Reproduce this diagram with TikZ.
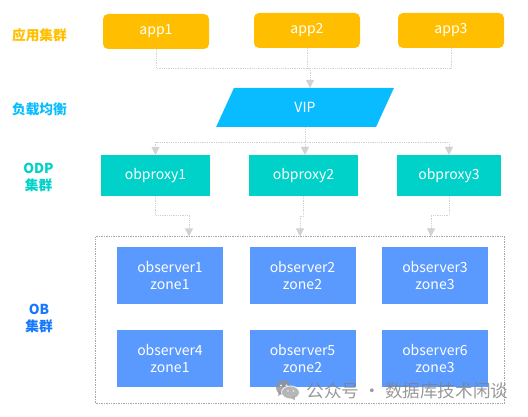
\documentclass[tikz,border=0pt]{standalone}
\usepackage{fontspec}
\setmainfont{Noto Sans CJK SC}
\usetikzlibrary{arrows.meta,shapes.geometric}
\definecolor{appyellow}{HTML}{FFBF00}
\definecolor{vipblue}{HTML}{09BCFF}
\definecolor{proxycyan}{HTML}{00D1C9}
\definecolor{serverblue}{HTML}{5A9AFF}
\definecolor{obblue}{HTML}{1677FF}
\definecolor{linkgray}{HTML}{D2D2D2}
\tikzset{
  boxtext/.style={text=white, inner sep=0pt, outer sep=0pt, align=center,
                  font=\fontsize{14}{17}\selectfont},
  appbox/.style={boxtext, fill=appyellow, rounded corners=5pt,
                 minimum width=106pt, minimum height=35pt},
  proxybox/.style={boxtext, fill=proxycyan, minimum height=41pt},
  serverbox/.style={boxtext, fill=serverblue, minimum width=106pt, minimum height=57pt},
  tierlabel/.style={align=center, inner sep=0pt, font=\fontsize{13.7}{17}\selectfont\bfseries},
  link/.style={linkgray, line width=0.8pt, densely dotted},
  linkarrow/.style={link, -{Triangle[width=8pt,length=8pt]}},
}
\begin{document}
\begin{tikzpicture}[x=1pt,y=-1pt]
  \useasboundingbox (0,0) rectangle (528,417);

  %% Tier labels on the left
  \node[tierlabel, text=appyellow] (labelapp) at (39.5,35) {应用集群};
  \node[tierlabel, text=vipblue] (labelvip) at (39.5,109) {负载均衡};
  \node[tierlabel, text=proxycyan] (labelodp) at (38.5,177.5) {ODP\\集群};
  \node[tierlabel, text=obblue] (labelob) at (39,318.5) {OB\\集群};

  %% Application row
  \node[appbox] (app1) at (156,31.5) {app1};
  \node[appbox] (app2) at (307,30.5) {app2};
  \node[appbox] (app3) at (451,30.5) {app3};

  %% Load balancer
  \node[boxtext, draw=none, fill=vipblue, trapezium, trapezium stretches=true,
        trapezium left angle=75.6, trapezium right angle=104.4,
        minimum width=178pt, minimum height=39pt] (vip) at (305,107.5) {VIP};

  %% Proxy row
  \node[proxybox, minimum width=109pt] (obproxy1) at (155.5,175.5) {obproxy1};
  \node[proxybox, minimum width=109pt] (obproxy2) at (303.5,175.5) {obproxy2};
  \node[proxybox, minimum width=104pt] (obproxy3) at (449,175.5) {obproxy3};

  %% Cluster frame and servers
  \node[draw=gray!70, densely dotted, line width=0.7pt, inner sep=0pt, outer sep=0pt,
        minimum width=409pt, minimum height=167pt] (cluster) at (300,320) {};
  \foreach \name/\x/\y/\z in {1/170/275.5/1, 2/302.5/275.5/2, 3/435/275.5/3,
                              4/170/358.5/1, 5/302.5/358.5/2, 6/435/358.5/3} {
    \node[serverbox] (observer\name) at (\x,\y) {observer\name\\zone\z};
  }

  %% Bus coordinates
  \coordinate (appbus) at (310,68);
  \coordinate (vipin) at (310,88);
  \coordinate (vipbus) at (305,142);
  \coordinate (obin1) at (189,236.5);
  \coordinate (obin2) at (300,236.5);
  \coordinate (obin3) at (431,236.5);

  %% Connectors
  \draw[link] (app1.south) |- (appbus);
  \draw[link] (app2.south) |- (appbus);
  \draw[link] (app3.south) |- (appbus);
  \draw[linkarrow] (appbus) -- (vipin);
  \draw[link] (vipbus |- vip.south) -- (vipbus);
  \draw[linkarrow] (vipbus) -| (obproxy1.north);
  \draw[linkarrow] (vipbus) -- (obproxy2.north -| vipbus);
  \draw[linkarrow] (vipbus) -| (obproxy3.north);
  \draw[linkarrow] (obproxy1.south) -- ++(0,19) -| (obin1);
  \draw[linkarrow] (obproxy2.south) -- ++(0,20) -| (obin2);
  \draw[linkarrow] (obproxy3.south) -- ++(0,19) -| (obin3);

  %% Watermark
  \begin{scope}[opacity=0.8]
    \fill[gray!85] (283.5,387.5) ellipse (7.5pt and 7.5pt);
    \fill[gray!85] (278,396) -- (279,391) -- (283,393) -- cycle;
    \fill[white] (290.5,392.5) ellipse (9.5pt and 7pt);
    \fill[gray!70] (290.5,392.5) ellipse (8.5pt and 6pt);
    \fill[gray!70] (295,400.5) -- (294.5,396) -- (291,398) -- cycle;
    \fill[white] (281,385.5) circle (1.1pt) (286.5,385.5) circle (1.1pt)
                 (288,391) circle (0.9pt) (293.5,391) circle (0.9pt);
    \node[text=gray, inner sep=0pt, font=\fontsize{17.6}{18}\selectfont] (watermark)
      at (407.5,391) {公众号 · 数据库技术闲谈};
  \end{scope}
\end{tikzpicture}
\end{document}
